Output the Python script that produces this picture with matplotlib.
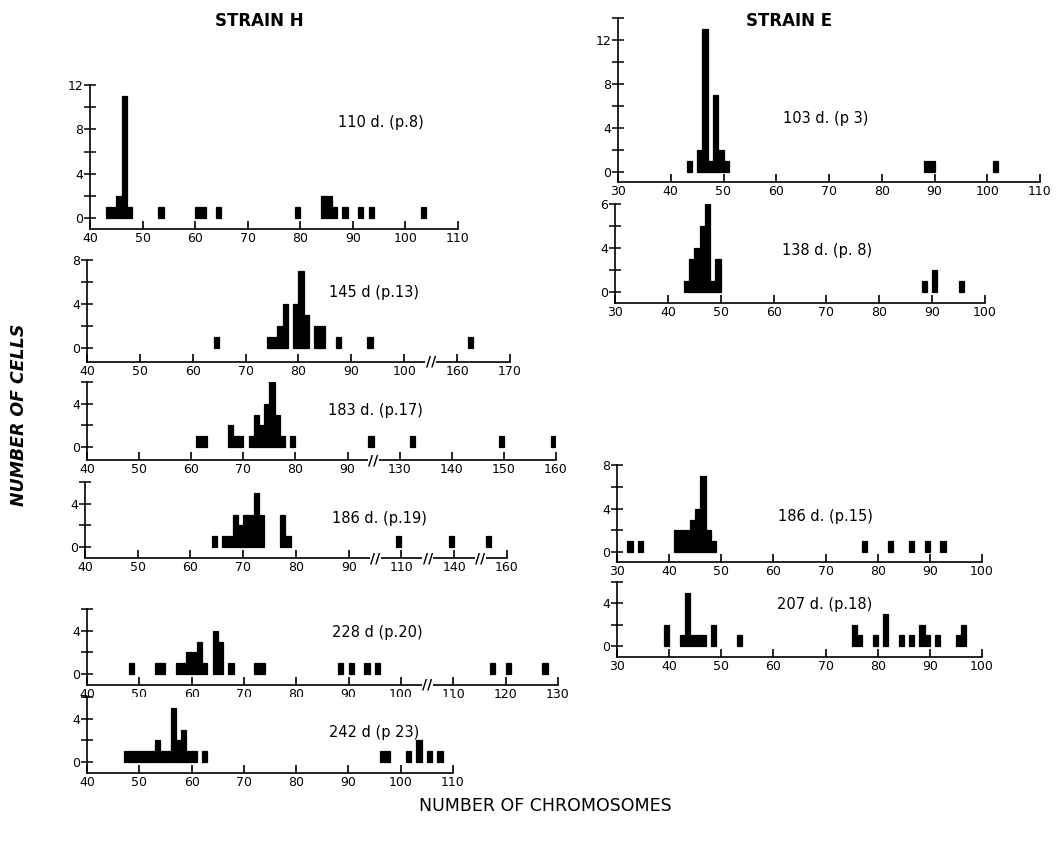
import matplotlib
matplotlib.use('Agg')
import matplotlib.pyplot as plt
import numpy as np

W, H = 1057, 843

# ---- strain H : chromosome number -> number of cells ----
h110_chrom = [43, 44, 45, 46, 47, 53, 60, 61, 64, 79, 84, 85, 86, 88, 91, 93, 103]
h110_cells = [1, 1, 2, 11, 1, 1, 1, 1, 1, 1, 2, 2, 1, 1, 1, 1, 1]

h145_chrom = [64, 74, 75, 76, 77, 79, 80, 81, 83, 84, 87, 93, 162]
h145_cells = [1, 1, 1, 2, 4, 4, 7, 3, 2, 2, 1, 1, 1]

h183_chrom = [61, 62, 67, 68, 69, 71, 72, 73, 74, 75, 76, 77, 79, 94, 132, 149, 159]
h183_cells = [1, 1, 2, 1, 1, 1, 3, 2, 4, 6, 3, 1, 1, 1, 1, 1, 1]

h186_chrom = [64, 66, 67, 68, 69, 70, 71, 72, 73, 77, 78, 109, 139, 156]
h186_cells = [1, 1, 1, 3, 2, 3, 3, 5, 3, 3, 1, 1, 1, 1]

h228_chrom = [48, 53, 54, 57, 58, 59, 60, 61, 62, 64, 65, 67, 72, 73, 88, 90, 93, 95, 117, 120, 127]
h228_cells = [1, 1, 1, 1, 1, 2, 2, 3, 1, 4, 3, 1, 1, 1, 1, 1, 1, 1, 1, 1, 1]

h242_chrom = [47, 48, 49, 50, 51, 52, 53, 54, 55, 56, 57, 58, 59, 60, 62, 96, 97, 101, 103, 105, 107]
h242_cells = [1, 1, 1, 1, 1, 1, 2, 1, 1, 5, 2, 3, 1, 1, 1, 1, 1, 1, 2, 1, 1]

# ---- strain E ----
e103_chrom = [43, 45, 46, 47, 48, 49, 50, 88, 89, 101]
e103_cells = [1, 2, 13, 1, 7, 2, 1, 1, 1, 1]

e138_chrom = [43, 44, 45, 46, 47, 48, 49, 88, 90, 95]
e138_cells = [1, 3, 4, 6, 8, 1, 3, 1, 2, 1]

e186_chrom = [32, 34, 41, 42, 43, 44, 45, 46, 47, 48, 77, 82, 86, 89, 92]
e186_cells = [1, 1, 2, 2, 2, 3, 4, 7, 2, 1, 1, 1, 1, 1, 1]

e207_chrom = [39, 42, 43, 44, 45, 46, 48, 53, 75, 76, 79, 81, 84, 86, 88, 89, 91, 95, 96]
e207_cells = [2, 1, 5, 1, 1, 1, 2, 1, 2, 1, 1, 3, 1, 1, 2, 1, 1, 1, 2]

# panel labels and x tick labels
h_titles = ['110 d. (p.8)', '145 d (p.13)', '183 d. (p.17)', '186 d. (p.19)', '228 d (p.20)', '242 d (p 23)']
e_titles = ['103 d. (p 3)', '138 d. (p. 8)', '186 d. (p.15)', '207 d. (p.18)']

h110_ticks = [40, 50, 60, 70, 80, 90, 100, 110]
h145_ticks = [40, 50, 60, 70, 80, 90, 100, 160, 170]
h183_ticks = [40, 50, 60, 70, 80, 90, 130, 140, 150, 160]
h186_ticks = [40, 50, 60, 70, 80, 90, 110, 140, 160]
h228_ticks = [40, 50, 60, 70, 80, 90, 100, 110, 120, 130]
h242_ticks = [40, 50, 60, 70, 80, 90, 100, 110]
e103_ticks = [30, 40, 50, 60, 70, 80, 90, 100, 110]
e_ticks = [30, 40, 50, 60, 70, 80, 90, 100]


def broken(keep):
    """piecewise x scale: ranges in keep stay linear, gaps between them collapse"""
    vals, disp = [], []
    d = keep[0][0]
    for lo, hi in keep:
        vals += [lo, hi]
        disp += [d, d + hi - lo]
        d += hi - lo + 1e-3
    vals, disp = np.array(vals, float), np.array(disp, float)

    def fwd(x):
        return np.interp(x, vals, disp)

    def inv(y):
        return np.interp(y, disp, vals)
    return fwd, inv


def panel(fig, chrom, cells, box, xlim, ytop, yticks, ticks, keep=((0, 500),),
          breaks=(), ylabels=None):
    # box = (x_left px, x_right px, zero level px, px per cell, axis line px)
    x0, x1, y0, unit, yline = box
    ybot = -(yline - y0) / unit
    top_px = y0 - ytop * unit
    ax = fig.add_axes([x0 / W, 1 - yline / H, (x1 - x0) / W, (yline - top_px) / H])
    ax.set_xscale('function', functions=broken(keep))
    ax.bar(chrom, cells, width=1, align='edge', color='black', edgecolor='black', linewidth=0.9)
    ax.set_xlim(*xlim)
    ax.set_ylim(ybot, ytop)
    ax.spines[['top', 'right']].set_visible(False)
    ax.spines[['left', 'bottom']].set_linewidth(1.2)
    ax.set_xticks(ticks)
    ax.set_xticklabels([str(t) for t in ticks])
    ax.xaxis.set_minor_locator(matplotlib.ticker.NullLocator())
    ax.tick_params(axis='x', direction='in', length=6, width=1.2, pad=2, labelsize=9)
    ax.set_yticks(yticks)
    ax.set_yticklabels(ylabels if ylabels else [str(t) for t in yticks])
    ax.set_yticks(np.arange(2, ytop + 0.1, 4), minor=True)
    ax.tick_params(axis='y', which='both', direction='inout', length=8, width=1.1,
                   pad=1, labelsize=9)
    for b in breaks:
        ax.text(b, 0, '//', transform=ax.get_xaxis_transform(), ha='center', va='center',
                fontsize=10, fontweight='bold',
                bbox=dict(facecolor='white', edgecolor='none', pad=0.3))
    return ax


fig = plt.figure(figsize=(W / 100, H / 100), dpi=100)

panel(fig, h110_chrom, h110_cells, (90, 458, 218, 11.07, 229), (40, 110), 12, [0, 4, 8, 12], h110_ticks)
panel(fig, h145_chrom, h145_cells, (87, 510, 348, 11.0, 362), (40, 170), 8, [0, 4, 8], h145_ticks,
      keep=((0, 105), (155, 500)), breaks=[130])
panel(fig, h183_chrom, h183_cells, (87, 556, 447, 10.83, 460), (40, 160), 6, [0, 4], h183_ticks,
      keep=((0, 95), (125, 500)), breaks=[110])
panel(fig, h186_chrom, h186_cells, (85, 507, 547, 10.83, 558), (40, 160), 6, [0, 4], h186_ticks,
      keep=((0, 95), (105, 115), (135, 145), (155, 500)), breaks=[100, 125, 150])
panel(fig, h228_chrom, h228_cells, (87, 558, 674, 10.83, 685), (40, 130), 6, [0, 4], h228_ticks,
      breaks=[105])
panel(fig, h242_chrom, h242_cells, (87, 453, 762, 10.83, 773), (40, 110), 6, [0, 4], h242_ticks)

panel(fig, e103_chrom, e103_cells, (618, 1040, 172, 10.97, 182), (30, 110), 14, [0, 4, 8, 12], e103_ticks)
panel(fig, e138_chrom, e138_cells, (615, 985, 292, 11.0, 303), (30, 100), 8, [0, 4, 8], e_ticks,
      ylabels=['0', '4', '6'])
panel(fig, e186_chrom, e186_cells, (617, 982, 552, 10.83, 562), (30, 100), 8, [0, 4, 8], e_ticks)
panel(fig, e207_chrom, e207_cells, (617, 982, 646, 10.7, 657), (30, 100), 6, [0, 4], e_ticks)

# panel captions (pixel positions of the original figure)
h_pos = [(338, 122), (329, 293), (328, 410), (332, 518), (332, 633), (329, 733)]
e_pos = [(783, 119), (782, 250), (778, 517), (777, 605)]
for s, (x, y) in zip(h_titles + e_titles, h_pos + e_pos):
    fig.text(x / W, 1 - y / H, s, ha='left', va='center', fontsize=10.5)

fig.text(259 / W, 1 - 21 / H, 'STRAIN H', ha='center', va='center', fontsize=12, fontweight='bold')
fig.text(789 / W, 1 - 21 / H, 'STRAIN E', ha='center', va='center', fontsize=12, fontweight='bold')
fig.text(545 / W, 1 - 806 / H, 'NUMBER OF CHROMOSOMES', ha='center', va='center', fontsize=12.5)
fig.text(19 / W, 1 - 415 / H, 'NUMBER OF CELLS', ha='center', va='center', rotation=90,
         fontsize=12.5, fontweight='bold', fontstyle='italic')

fig.savefig('out.png', dpi=100)
